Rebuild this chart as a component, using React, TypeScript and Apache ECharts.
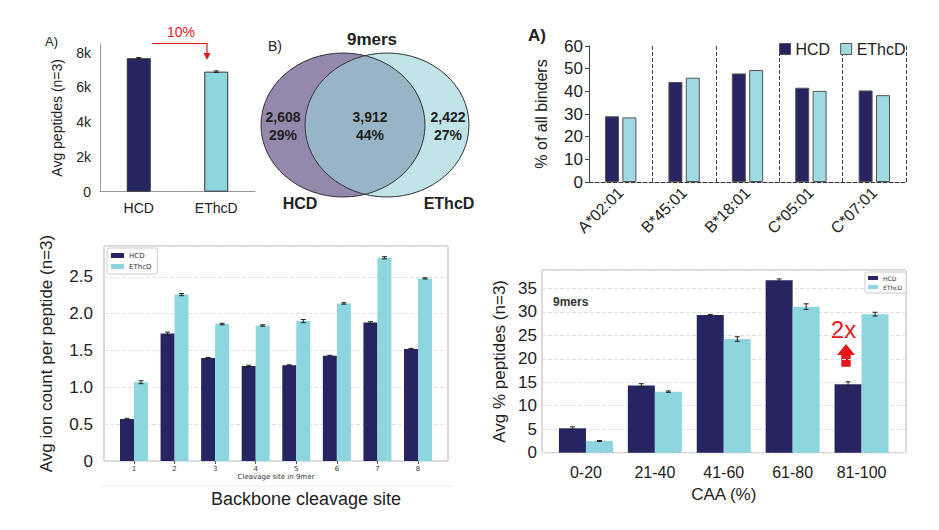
import React, { useEffect, useRef } from 'react';
import * as echarts from 'echarts';

// ---------- data ----------
// Panel A (top-left): average peptides per method
const methods = ['HCD', 'EThcD'];
const avgPeptides = [7680, 6910];
const avgPeptidesErr = [40, 45];

// Panel B: Venn of 9mers
const vennCounts = [2608, 3912, 2422];
const vennPercents = [29, 44, 27];

// Top-right: % of all binders per allele
const alleles = ['A*02:01', 'B*45:01', 'B*18:01', 'C*05:01', 'C*07:01'];
const hcdBinders = [29.0, 44.1, 47.9, 41.6, 40.4];
const ethcdBinders = [28.5, 46.0, 49.4, 40.2, 38.3];

// Bottom-left: avg ion count per peptide by cleavage site
const cleavageSites = ['1', '2', '3', '4', '5', '6', '7', '8'];
const hcdIonCount = [0.57, 1.73, 1.4, 1.29, 1.3, 1.43, 1.88, 1.52];
const hcdIonErr = [0.01, 0.02, 0.006, 0.01, 0.006, 0.006, 0.012, 0.01];
const ethcdIonCount = [1.07, 2.26, 1.86, 1.84, 1.9, 2.14, 2.76, 2.48];
const ethcdIonErr = [0.02, 0.015, 0.01, 0.01, 0.022, 0.01, 0.015, 0.008];

// Bottom-right: avg % peptides by CAA bin
const caaBins = ['0-20', '21-40', '41-60', '61-80', '81-100'];
const hcdCaa = [5.2, 14.3, 29.3, 36.7, 14.6];
const hcdCaaErr = [0.3, 0.4, 0.15, 0.3, 0.5];
const ethcdCaa = [2.5, 13.0, 24.2, 31.1, 29.5];
const ethcdCaaErr = [0.1, 0.15, 0.5, 0.6, 0.4];

// ---------- styles ----------
const NAVY = '#272462';
const CYAN = '#8dd5df';
const CYAN_LIGHT = '#9fd9e1';
const ARIAL = '"Liberation Sans", Arial, sans-serif';
const MPL = '"DejaVu Sans", sans-serif';
const RED = '#e8161b';

const LENS = 'M365 55.64 A82 72 0 0 1 365 194.36 A82 72 0 0 1 365 55.64 Z';
echarts.graphic.registerShape('vennLens', echarts.graphic.extendPath(LENS, {}));

function errSeries(name: string, xi: number, vals: number[], errs: number[], offset: number, cap: number) {
  return {
    type: 'custom',
    name,
    xAxisIndex: xi,
    yAxisIndex: xi,
    silent: true,
    z: 10,
    data: vals.map((v, i) => [i, v, errs[i]]),
    renderItem: (_p: any, api: any) => {
      const i = api.value(0);
      const v = api.value(1);
      const e = api.value(2);
      const top = api.coord([i, v + e]);
      const bot = api.coord([i, v - e]);
      const x = top[0] + offset;
      const st = { stroke: '#222', lineWidth: 1 };
      return {
        type: 'group',
        children: [
          { type: 'line', shape: { x1: x, y1: top[1], x2: x, y2: bot[1] }, style: st },
          { type: 'line', shape: { x1: x - cap, y1: top[1], x2: x + cap, y2: top[1] }, style: st },
          { type: 'line', shape: { x1: x - cap, y1: bot[1], x2: x + cap, y2: bot[1] }, style: st },
        ],
      };
    },
  };
}

export default function App() {
  const ref = useRef<HTMLDivElement>(null);
  useEffect(() => {
    document.body.style.margin = '0';
    const chart = echarts.init(ref.current!, null, { renderer: 'svg' });

    const vennTexts = [
      { x: 283, label: `${vennCounts[0].toLocaleString('en-US')}\n${vennPercents[0]}%` },
      { x: 370, label: `${vennCounts[1].toLocaleString('en-US')}\n${vennPercents[1]}%` },
      { x: 448, label: `${vennCounts[2].toLocaleString('en-US')}\n${vennPercents[2]}%` },
    ];

    const option: any = {
      animation: false,
      backgroundColor: '#fff',
      textStyle: { fontFamily: ARIAL },
      grid: [
        { left: 100, top: 44, width: 155, height: 147.7 },
        { left: 589, top: 46, width: 317, height: 136 },
        { left: 104, top: 246, width: 344, height: 215, show: true, borderColor: '#b5b5b5', borderWidth: 1 },
        { left: 113.7, top: 246, width: 324.6, height: 215 },
        { left: 542, top: 270, width: 364, height: 182.7, show: true, borderColor: '#b5b5b5', borderWidth: 1 },
        { left: 551.5, top: 270, width: 344.5, height: 182.7 },
      ],
      xAxis: [
        {
          type: 'category', gridIndex: 0, data: methods,
          axisLine: { lineStyle: { color: '#999' } },
          axisTick: { length: 5, lineStyle: { color: '#999' } },
          axisLabel: { fontSize: 14, color: '#222', margin: 9, fontFamily: ARIAL },
        },
        {
          type: 'category', gridIndex: 1, data: alleles,
          axisLine: { lineStyle: { color: '#333', type: 'dashed' } },
          axisTick: { length: 5, lineStyle: { color: '#333', type: 'dashed' } },
          splitLine: { show: true, lineStyle: { color: '#444', type: 'dashed', width: 1 } },
          axisLabel: { rotate: 45, fontSize: 16, color: '#222', margin: 8, fontFamily: ARIAL },
        },
        { type: 'value', gridIndex: 2, min: 0, max: 1, show: false },
        {
          type: 'category', gridIndex: 3, data: cleavageSites,
          axisLine: { show: false },
          axisTick: { show: true, alignWithLabel: true, length: 3, lineStyle: { color: '#555' } },
          axisLabel: { fontSize: 7, color: '#333', margin: 4, fontFamily: MPL },
          name: 'Cleavage site in 9mer', nameLocation: 'middle', nameGap: 12,
          nameTextStyle: { fontSize: 7, color: '#333', fontFamily: MPL },
        },
        { type: 'value', gridIndex: 4, min: 0, max: 1, show: false },
        {
          type: 'category', gridIndex: 5, data: caaBins,
          axisLine: { show: false },
          axisTick: { show: false },
          axisLabel: { fontSize: 16, color: '#222', margin: 12, fontFamily: ARIAL },
          name: 'CAA (%)', nameLocation: 'middle', nameGap: 33,
          nameTextStyle: { fontSize: 17, color: '#222', fontFamily: ARIAL },
        },
      ],
      yAxis: [
        {
          type: 'value', gridIndex: 0, min: 0, max: 8500, interval: 2000,
          axisLine: { show: true, lineStyle: { color: '#999' } },
          axisTick: { show: false },
          splitLine: { show: false },
          axisLabel: {
            fontSize: 14, color: '#222', margin: 9, fontFamily: ARIAL,
            formatter: (v: number) => (v % 2000 === 0 ? (v === 0 ? '0' : `${v / 1000}k`) : ''),
          },
          name: 'Avg peptides (n=3)', nameLocation: 'middle', nameGap: 36, nameRotate: 90,
          nameTextStyle: { fontSize: 14, color: '#222', fontFamily: ARIAL },
        },
        {
          type: 'value', gridIndex: 1, min: 0, max: 60, interval: 10,
          axisLine: { show: true, lineStyle: { color: '#444' } },
          axisTick: { show: true, length: 4, lineStyle: { color: '#444' } },
          splitLine: { show: false },
          axisLabel: { fontSize: 17, color: '#222', margin: 6, fontFamily: ARIAL },
          name: '% of all binders', nameLocation: 'middle', nameGap: 40, nameRotate: 90,
          nameTextStyle: { fontSize: 16, color: '#222', fontFamily: ARIAL },
        },
        {
          type: 'value', gridIndex: 2, min: 0, max: 2.92, interval: 0.5,
          axisLine: { show: false },
          axisTick: { show: false },
          splitLine: { show: true, lineStyle: { color: '#e2e2e2', type: 'dashed' } },
          axisLabel: {
            fontSize: 17, color: '#222', margin: 11, fontFamily: ARIAL,
            formatter: (v: number) =>
              Math.abs(v * 2 - Math.round(v * 2)) < 1e-6 ? (v === 0 ? '0' : v.toFixed(1)) : '',
          },
          name: 'Avg ion count per peptide (n=3)', nameLocation: 'middle', nameGap: 49, nameRotate: 90,
          nameTextStyle: { fontSize: 17, color: '#222', fontFamily: ARIAL },
        },
        { type: 'value', gridIndex: 3, min: 0, max: 2.92, show: false },
        {
          type: 'value', gridIndex: 4, min: 0, max: 38.9, interval: 5,
          axisLine: { show: false },
          axisTick: { show: false },
          splitLine: { show: true, lineStyle: { color: '#e2e2e2', type: 'dashed' } },
          axisLabel: {
            fontSize: 17, color: '#222', margin: 5, fontFamily: ARIAL,
            formatter: (v: number) => (v % 5 === 0 ? String(v) : ''),
          },
          name: 'Avg % peptides (n=3)', nameLocation: 'middle', nameGap: 34, nameRotate: 90,
          nameTextStyle: { fontSize: 17, color: '#222', fontFamily: ARIAL },
        },
        { type: 'value', gridIndex: 5, min: 0, max: 38.9, show: false },
      ],
      legend: [
        {
          left: 779, top: 41, icon: 'rect', itemWidth: 11, itemHeight: 11, itemGap: 10, padding: 0,
          textStyle: { fontSize: 16, color: '#222', fontFamily: ARIAL },
          data: [
            { name: 'HCD', itemStyle: { color: NAVY, borderColor: '#555', borderWidth: 1 } },
            { name: 'EThcD', itemStyle: { color: CYAN_LIGHT, borderColor: '#555', borderWidth: 1 } },
          ],
        },
        {
          left: 107, top: 248, orient: 'vertical', icon: 'rect', itemWidth: 13, itemHeight: 5, itemGap: 4,
          padding: [4, 6, 4, 4], borderColor: '#ccc', borderWidth: 1, borderRadius: 2, backgroundColor: '#fff',
          textStyle: { fontSize: 7, color: '#333', fontFamily: MPL },
          data: [
            { name: 'HCD', itemStyle: { color: NAVY, borderWidth: 0 } },
            { name: 'EThcD', itemStyle: { color: CYAN, borderWidth: 0 } },
          ],
        },
        {
          left: 865, top: 272, orient: 'vertical', icon: 'rect', itemWidth: 10, itemHeight: 4, itemGap: 3,
          padding: [3, 4, 3, 3], borderColor: '#ccc', borderWidth: 1, borderRadius: 2, backgroundColor: '#fff',
          textStyle: { fontSize: 6, color: '#333', fontFamily: MPL },
          data: [
            { name: 'HCD', itemStyle: { color: NAVY, borderWidth: 0 } },
            { name: 'EThcD', itemStyle: { color: CYAN, borderWidth: 0 } },
          ],
        },
      ],
      series: [
        {
          type: 'bar', name: 'Avg peptides', xAxisIndex: 0, yAxisIndex: 0, barWidth: 24,
          itemStyle: { borderColor: '#333', borderWidth: 1 },
          data: avgPeptides.map((v, i) => ({ value: v, itemStyle: { color: i === 0 ? NAVY : CYAN } })),
        },
        errSeries('errA', 0, avgPeptides, avgPeptidesErr, 0, 2.5),
        {
          type: 'bar', name: 'HCD', xAxisIndex: 1, yAxisIndex: 1, barWidth: 14, barGap: '24%',
          itemStyle: { color: NAVY, borderColor: '#555', borderWidth: 1 }, data: hcdBinders,
        },
        {
          type: 'bar', name: 'EThcD', xAxisIndex: 1, yAxisIndex: 1, barWidth: 14, barGap: '24%',
          itemStyle: { color: CYAN_LIGHT, borderColor: '#555', borderWidth: 1 }, data: ethcdBinders,
        },
        {
          type: 'bar', name: 'HCD', xAxisIndex: 3, yAxisIndex: 3, barWidth: 14, barGap: '0%',
          itemStyle: { color: NAVY }, data: hcdIonCount,
        },
        {
          type: 'bar', name: 'EThcD', xAxisIndex: 3, yAxisIndex: 3, barWidth: 14, barGap: '0%',
          itemStyle: { color: CYAN }, data: ethcdIonCount,
        },
        errSeries('errIonH', 3, hcdIonCount, hcdIonErr, -7, 2.5),
        errSeries('errIonE', 3, ethcdIonCount, ethcdIonErr, 7, 2.5),
        {
          type: 'bar', name: 'HCD', xAxisIndex: 5, yAxisIndex: 5, barWidth: 27, barGap: '0%',
          itemStyle: { color: NAVY }, data: hcdCaa,
        },
        {
          type: 'bar', name: 'EThcD', xAxisIndex: 5, yAxisIndex: 5, barWidth: 27, barGap: '0%',
          itemStyle: { color: CYAN }, data: ethcdCaa,
        },
        errSeries('errCaaH', 5, hcdCaa, hcdCaaErr, -13.5, 2.5),
        errSeries('errCaaE', 5, ethcdCaa, ethcdCaaErr, 13.5, 2.5),
      ],
      graphic: [
        // Panel A labels
        { type: 'text', left: 45, top: 35, style: { text: 'A)', fontSize: 13, fill: '#222', fontFamily: ARIAL } },
        {
          type: 'text', x: 181, y: 32,
          style: { text: '10%', fontSize: 14, fill: RED, fontFamily: ARIAL, align: 'center', verticalAlign: 'middle' },
        },
        {
          type: 'polyline',
          shape: { points: [[152, 43.5], [207, 43.5], [207, 55]] },
          style: { stroke: RED, lineWidth: 1.2, fill: null },
        },
        { type: 'polygon', shape: { points: [[203.5, 53], [210.5, 53], [207, 60]] }, style: { fill: RED } },
        // Venn
        { type: 'ellipse', shape: { cx: 343, cy: 125, rx: 82, ry: 72 }, style: { fill: '#9489ad' } },
        { type: 'ellipse', shape: { cx: 387, cy: 125, rx: 82, ry: 72 }, style: { fill: '#c0e4e8' } },
        { type: 'vennLens', x: 0, y: 0, style: { fill: '#97b5c6' } },
        { type: 'ellipse', shape: { cx: 343, cy: 125, rx: 82, ry: 72 }, style: { fill: null, stroke: '#333', lineWidth: 1 } },
        { type: 'ellipse', shape: { cx: 387, cy: 125, rx: 82, ry: 72 }, style: { fill: null, stroke: '#333', lineWidth: 1 } },
        ...vennTexts.map((t) => ({
          type: 'text', x: t.x, y: 126,
          style: {
            text: t.label, fontSize: 14, fontWeight: 'bold', fill: '#222', fontFamily: ARIAL,
            align: 'center', verticalAlign: 'middle', lineHeight: 18,
          },
        })),
        { type: 'text', left: 268, top: 39, style: { text: 'B)', fontSize: 14, fill: '#222', fontFamily: ARIAL } },
        {
          type: 'text', x: 372, y: 39,
          style: { text: '9mers', fontSize: 17, fontWeight: 'bold', fill: '#222', fontFamily: ARIAL, align: 'center', verticalAlign: 'middle' },
        },
        {
          type: 'text', x: 300, y: 203,
          style: { text: 'HCD', fontSize: 16, fontWeight: 'bold', fill: '#222', fontFamily: ARIAL, align: 'center', verticalAlign: 'middle' },
        },
        {
          type: 'text', x: 449, y: 203,
          style: { text: 'EThcD', fontSize: 16, fontWeight: 'bold', fill: '#222', fontFamily: ARIAL, align: 'center', verticalAlign: 'middle' },
        },
        // Top-right panel label
        { type: 'text', left: 528, top: 27, style: { text: 'A)', fontSize: 17, fontWeight: 'bold', fill: '#222', fontFamily: ARIAL } },
        // Bottom-left extras
        { type: 'line', shape: { x1: 100, y1: 486, x2: 453, y2: 486 }, style: { stroke: '#eeeeee', lineWidth: 1 } },
        {
          type: 'text', x: 306, y: 499,
          style: { text: 'Backbone cleavage site', fontSize: 18, fill: '#222', fontFamily: ARIAL, align: 'center', verticalAlign: 'middle' },
        },
        // Bottom-right extras
        {
          type: 'text', left: 553, top: 296,
          style: { text: '9mers', fontSize: 12, fontWeight: 'bold', fill: '#333', fontFamily: ARIAL },
        },
        {
          type: 'text', x: 843.5, y: 329,
          style: { text: '2x', fontSize: 24, fill: RED, fontFamily: ARIAL, align: 'center', verticalAlign: 'middle' },
        },
        {
          type: 'polygon',
          shape: {
            points: [
              [846, 344], [855, 355], [850.7, 355], [850.7, 366.7],
              [841.3, 366.7], [841.3, 355], [837, 355],
            ],
          },
          style: { fill: RED },
        },
      ],
    };

    chart.setOption(option);
    return () => chart.dispose();
  }, []);

  return <div ref={ref} style={{ width: 939, height: 530 }} />;
}
